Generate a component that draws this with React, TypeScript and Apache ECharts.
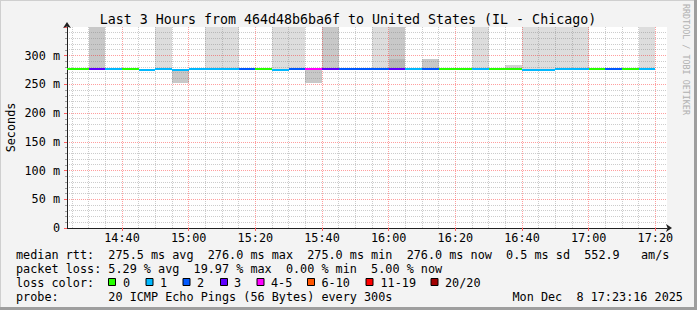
import React, { useEffect, useRef } from "react";
import * as echarts from "echarts";

// ---- data ----
const segmentTimes = [
  "14:20", "14:25", "14:30", "14:35", "14:40", "14:45", "14:50", "14:55",
  "15:00", "15:05", "15:10", "15:15", "15:20", "15:25", "15:30", "15:35",
  "15:40", "15:45", "15:50", "15:55", "16:00", "16:05", "16:10", "16:15",
  "16:20", "16:25", "16:30", "16:35", "16:40", "16:45", "16:50", "16:55",
  "17:00", "17:05", "17:10", "17:15",
];
const medianRtt = [
  276, 276, 276, 276, 276, 275, 276, 275,
  276, 276, 276, 276, 276, 275, 276, 276,
  276, 276, 276, 276, 276, 276, 276, 276,
  276, 276, 276, 276, 275, 275, 276, 276,
  276, 276, 276, 276,
];
const lostPings = [
  0, 0, 3, 1, 0, 1, 1, 1,
  1, 1, 1, 2, 0, 1, 2, 4,
  3, 2, 2, 2, 3, 1, 2, 0,
  0, 1, 0, 0, 1, 1, 1, 1,
  0, 2, 0, 1,
];

// smoke bands (ping spread), shade level 0 = light ... 3 = dark
const smokeTimes = [
  "14:30", "14:50", "14:55", "15:05", "15:10", "15:25", "15:30", "15:35",
  "15:40", "15:55", "16:00", "16:00", "16:10", "16:25", "16:35", "16:40",
  "16:45", "16:50", "16:55", "17:15",
];
const smokeLow = [
  276, 276, 253, 276, 276, 275, 276, 253,
  276, 276, 276, 276, 276, 276, 276, 275,
  275, 276, 276, 276,
];
const smokeHigh = [
  350, 350, 275, 350, 350, 350, 350, 276,
  350, 350, 350, 295, 295, 350, 284, 350,
  350, 350, 350, 350,
];
const smokeShade = [
  2, 0, 2, 0, 0, 0, 0, 2,
  2, 0, 2, 3, 2, 0, 1, 0,
  0, 0, 0, 0,
];

const xLabelTimes = ["14:40", "15:00", "15:20", "15:40", "16:00", "16:20", "16:40", "17:00", "17:20"];

const lossLabels = ["0", "1", "2", "3", "4-5", "6-10", "11-19", "20/20"];
const lossColors = ["#26ff00", "#00b8ff", "#0059ff", "#5e00ff", "#ff00ff", "#ff5500", "#ff0000", "#a10000"];

const titleText = "Last 3 Hours from 464d48b6ba6f to United States (IL - Chicago)";
const yAxisTitle = "Seconds";
const rttLine = "median rtt:  275.5 ms avg  276.0 ms max  275.0 ms min  276.0 ms now  0.5 ms sd  552.9   am/s";
const lossLine = "packet loss: 5.29 % avg  19.97 % max  0.00 % min  5.00 % now";
const lossColorLabel = "loss color:";
const probeLine = "probe:       20 ICMP Echo Pings (56 Bytes) every 300s";
const dateText = "Mon Dec  8 17:23:16 2025";

// ---- helpers ----
const SEG = 5; // minutes per step
const X_MIN = 14 * 60 + 23.5;
const X_MAX = X_MIN + 180;
const Y_MAX = 350;
const toMin = (s: string) => {
  const [h, m] = s.split(":").map(Number);
  return h * 60 + m;
};
const fmtMin = (v: number) => {
  const h = Math.floor(v / 60);
  const m = Math.round(v - h * 60);
  return `${h}:${m < 10 ? "0" + m : m}`;
};
const lossIndex = (n: number) => (n <= 3 ? n : n <= 5 ? 4 : n <= 10 ? 5 : n <= 19 ? 6 : 7);
const shadePalette = ["#dddddd", "#d2d2d2", "#c8c8c8", "#b6b6b6"];

const MONO = "'DejaVu Sans Mono', monospace";
const FS = 11.8;

const PLOT = { left: 67, top: 27, width: 600, height: 201 };
const GRID_MINOR = "rgba(128,128,128,0.4)";
const GRID_MAJOR = "rgba(255,0,0,0.38)";

export default function App() {
  const ref = useRef<HTMLDivElement>(null);
  useEffect(() => {
    if (!ref.current) return;
    const chart = echarts.init(ref.current, undefined, { renderer: "svg" });

    const majorX = xLabelTimes.map(toMin);
    const minorX: number[] = [];
    for (let t = toMin("14:25"); t <= toMin("17:20"); t += SEG) {
      if (majorX.indexOf(t) < 0) minorX.push(t);
    }
    const vGridData = [...minorX.map((t) => [t, 0]), ...majorX.map((t) => [t, 1])];
    const hGridData: number[][] = [];
    for (let v = 10; v < Y_MAX; v += 10) {
      if (v % 50 !== 0) hGridData.push([X_MIN, v]);
    }

    const lineData = segmentTimes.map((t, i) => [toMin(t), medianRtt[i], lostPings[i]]);
    const smokeData = smokeTimes.map((t, i) => [toMin(t), smokeLow[i], smokeHigh[i], smokeShade[i]]);

    const txt = (x: number, y: number, text: string, extra: any = {}, el: any = {}) => ({
      type: "text",
      x,
      y,
      silent: true,
      z: 5,
      ...el,
      style: {
        text,
        fill: "#000",
        font: `${FS}px ${MONO}`,
        textVerticalAlign: "middle",
        verticalAlign: "middle",
        ...extra,
      },
    });

    const boxX = [108, 145.5, 182.5, 220, 256.5, 307, 365.5, 430.5];
    const labX = [123, 160, 197, 234, 271, 321.5, 380.5, 445];

    const graphics: any[] = [
      {
        type: "rect",
        z: -10,
        silent: true,
        shape: { x: PLOT.left, y: PLOT.top, width: PLOT.width, height: PLOT.height },
        style: { fill: "#ffffff" },
      },
      { type: "rect", z: 5, shape: { x: 0, y: 0, width: 697, height: 1 }, style: { fill: "#cfcfcf" }, silent: true },
      { type: "rect", z: 5, shape: { x: 0, y: 0, width: 1, height: 310 }, style: { fill: "#cfcfcf" }, silent: true },
      { type: "rect", z: 5, shape: { x: 694, y: 0, width: 3, height: 310 }, style: { fill: "#9e9e9e" }, silent: true },
      { type: "rect", z: 5, shape: { x: 0, y: 307, width: 697, height: 3 }, style: { fill: "#9e9e9e" }, silent: true },
      txt(348, 19, titleText, { font: `13.3px ${MONO}`, textAlign: "center", align: "center" }),
      txt(11, 127.5, yAxisTitle, { textAlign: "center", align: "center" }, { rotation: Math.PI / 2 }),
      {
        type: "text",
        x: 686,
        y: 4,
        rotation: -Math.PI / 2,
        silent: true,
        style: { text: "RRDTOOL / TOBI OETIKER", fill: "#b0b0b0", font: `8.4px ${MONO}`, verticalAlign: "middle", textVerticalAlign: "middle" },
      },
      txt(16, 254.5, rttLine),
      txt(16, 268.5, lossLine),
      txt(16, 282.5, lossColorLabel),
      ...lossLabels.map((l, i) => ({
        type: "rect",
        silent: true,
        z: 5,
        shape: { x: boxX[i] + 0.5, y: 278.5, width: 7, height: 7 },
        style: { fill: lossColors[i], stroke: "#000", lineWidth: 1 },
      })),
      ...lossLabels.map((l, i) => txt(labX[i], 282.5, l)),
      txt(16, 296.5, probeLine),
      txt(512.5, 296.5, dateText),
    ];

    chart.setOption({
      animation: false,
      backgroundColor: "#f3f3f3",
      grid: {
        left: PLOT.left,
        top: PLOT.top,
        width: PLOT.width,
        height: PLOT.height,
        show: false,
        containLabel: false,
        outerBoundsMode: "none",
      },
      xAxis: {
        type: "value",
        min: X_MIN,
        max: X_MAX,
        axisLine: { show: true, lineStyle: { color: "#202020", width: 1 }, symbol: ["none", "arrow"], symbolSize: [6, 6], symbolOffset: [0, 5] },
        axisTick: { show: true, customValues: majorX, length: 3, lineStyle: { color: "#ff6060" } },
        axisLabel: {
          customValues: majorX,
          formatter: (v: number) => fmtMin(v),
          color: "#000",
          fontFamily: MONO,
          fontSize: FS,
          margin: 4,
        },
        splitLine: { show: false },
      },
      yAxis: {
        type: "value",
        min: 0,
        max: Y_MAX,
        interval: 50,
        axisLine: { show: true, lineStyle: { color: "#202020", width: 1 }, symbol: ["none", "arrow"], symbolSize: [6, 6], symbolOffset: [0, 5] },
        axisTick: { show: true, length: 3, lineStyle: { color: "#ff6060" } },
        minorTick: { show: true, splitNumber: 5, length: 2, lineStyle: { color: "#a0a0a0" } },
        axisLabel: {
          showMaxLabel: false,
          formatter: (v: number) => (v === 0 ? "0" : `${v} m`),
          color: "#000",
          fontFamily: MONO,
          fontSize: FS,
          margin: 7,
        },
        splitLine: { show: true, showMinLine: false, showMaxLine: false, lineStyle: { color: GRID_MAJOR, type: "dotted", width: 1 } },
        minorSplitLine: { show: false },
      },
      graphic: graphics,
      series: [
        {
          type: "custom",
          name: "smoke",
          z: -5,
          silent: true,
          data: smokeData,
          encode: { x: 0, y: [1, 2] },
          renderItem: (params: any, api: any) => {
            const t = api.value(0);
            const lo = api.value(1);
            const hi = api.value(2);
            const sh = api.value(3);
            const p0 = api.coord([t, hi]);
            const p1 = api.coord([t + SEG, lo]);
            const x0 = Math.round(p0[0]);
            const x1 = Math.round(p1[0]);
            const y0 = Math.round(p0[1]);
            const y1 = Math.round(p1[1]);
            const cs = params.coordSys;
            const r = echarts.graphic.clipRectByRect(
              { x: x0, y: y0, width: x1 - x0, height: y1 - y0 },
              { x: cs.x, y: cs.y, width: cs.width, height: cs.height }
            );
            if (!r) return null;
            return { type: "rect", shape: r, style: { fill: shadePalette[sh] } };
          },
        },
        {
          type: "custom",
          name: "time grid",
          z: -4,
          silent: true,
          data: vGridData,
          encode: { x: 0 },
          renderItem: (params: any, api: any) => {
            const t = api.value(0);
            const major = api.value(1) === 1;
            const top = api.coord([t, Y_MAX]);
            const bot = api.coord([t, 0]);
            const x = Math.floor(top[0]) + 0.5;
            return {
              type: "line",
              shape: { x1: x, y1: top[1], x2: x, y2: bot[1] },
              style: { stroke: major ? GRID_MAJOR : GRID_MINOR, lineWidth: 1, lineDash: [1, 1] },
            };
          },
        },
        {
          type: "custom",
          name: "value grid",
          z: -4,
          silent: true,
          data: hGridData,
          encode: { x: 0, y: 1 },
          renderItem: (params: any, api: any) => {
            const v = api.value(1);
            const a = api.coord([X_MIN, v]);
            const b = api.coord([X_MAX, v]);
            const y = Math.floor(a[1]) + 0.5;
            return {
              type: "line",
              shape: { x1: a[0], y1: y, x2: b[0], y2: y },
              style: { stroke: GRID_MINOR, lineWidth: 1, lineDash: [1, 1] },
            };
          },
        },
        {
          type: "custom",
          name: "median rtt",
          z: 3,
          silent: true,
          data: lineData,
          encode: { x: 0, y: 1 },
          renderItem: (params: any, api: any) => {
            const t = api.value(0);
            const v = api.value(1);
            const loss = api.value(2);
            const p0 = api.coord([t, v]);
            const p1 = api.coord([t + SEG, v]);
            const x0 = Math.round(p0[0]);
            const x1 = Math.round(p1[0]);
            const y = Math.floor(p0[1]) - 1;
            const cs = params.coordSys;
            const r = echarts.graphic.clipRectByRect(
              { x: x0, y, width: x1 - x0, height: 2 },
              { x: cs.x, y: cs.y, width: cs.width, height: cs.height }
            );
            if (!r) return null;
            return { type: "rect", shape: r, style: { fill: lossColors[lossIndex(loss)] } };
          },
        },
      ],
    });

    return () => chart.dispose();
  }, []);

  return <div ref={ref} style={{ position: "fixed", left: 0, top: 0, width: 697, height: 310 }} />;
}
